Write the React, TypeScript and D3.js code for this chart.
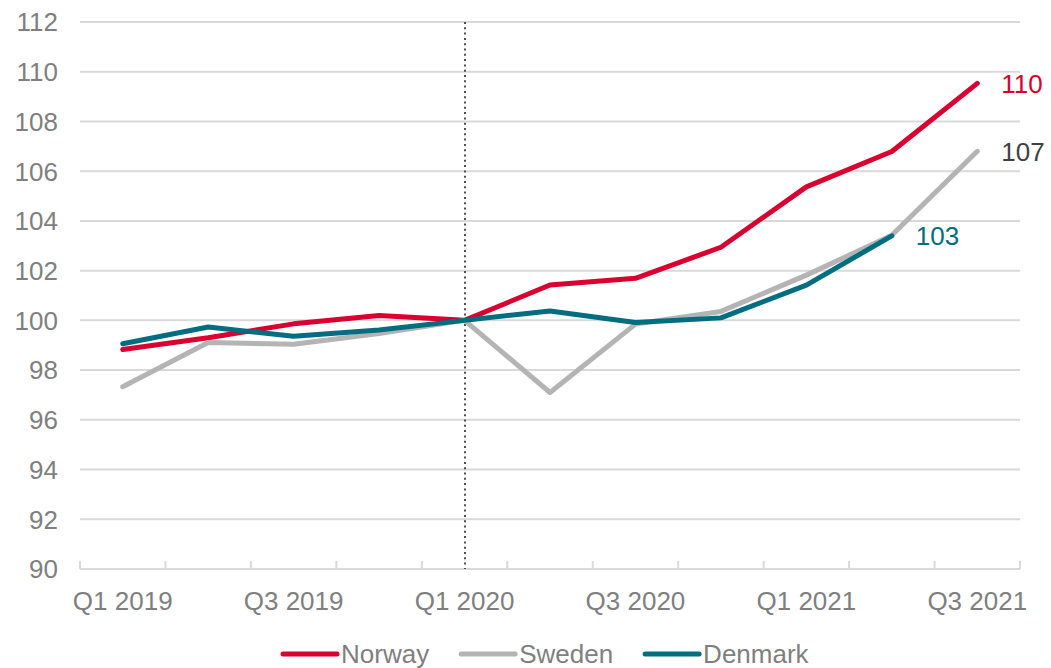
import React, { useEffect, useRef } from "react";
import * as d3 from "d3";

const categories = [
  "Q1 2019", "Q2 2019", "Q3 2019", "Q4 2019",
  "Q1 2020", "Q2 2020", "Q3 2020", "Q4 2020",
  "Q1 2021", "Q2 2021", "Q3 2021",
];
const shownLabels = ["Q1 2019", "Q3 2019", "Q1 2020", "Q3 2020", "Q1 2021", "Q3 2021"];
const norway = [98.83, 99.3, 99.86, 100.2, 100, 101.42, 101.69, 102.94, 105.37, 106.79, 109.53];
const sweden = [97.33, 99.11, 99.04, 99.47, 100, 97.1, 99.85, 100.36, 101.82, 103.42, 106.8];
const denmark = [99.06, 99.73, 99.36, 99.61, 100, 100.38, 99.91, 100.1, 101.42, 103.4];
const yTicks = [90, 92, 94, 96, 98, 100, 102, 104, 106, 108, 110, 112];
const endLabels = ["110", "107", "103"];
const markerCategory = "Q1 2020";

const series = [
  { name: "Norway", values: norway, color: "#DA0030", labelColor: "#DA0030", label: endLabels[0] },
  { name: "Sweden", values: sweden, color: "#B4B4B4", labelColor: "#404040", label: endLabels[1] },
  { name: "Denmark", values: denmark, color: "#006E80", labelColor: "#006E80", label: endLabels[2] },
];

const W = 1051;
const H = 668;
const FONT = "'Liberation Sans', Arial, sans-serif";
const FS = 26;

export default function App() {
  const ref = useRef<SVGSVGElement | null>(null);

  useEffect(() => {
    const svg = d3.select(ref.current);
    svg.selectAll("*").remove();

    const left = 80, right = 1020, top = 22, bottom = 569;
    const x = d3.scaleBand<string>().domain(categories).range([left, right]).padding(0);
    const y = d3.scaleLinear().domain([90, 112]).range([bottom, top]);
    const cx = (c: string) => (x(c) as number) + x.bandwidth() / 2;

    // gridlines
    svg.append("g")
      .selectAll("line")
      .data(yTicks)
      .join("line")
      .attr("x1", left).attr("x2", right)
      .attr("y1", (d) => y(d)).attr("y2", (d) => y(d))
      .attr("stroke", "#D9D9D9").attr("stroke-width", 2);

    // x tick marks (category boundaries)
    const bounds = categories.map((c) => x(c) as number).concat([right]);
    svg.append("g")
      .selectAll("line")
      .data(bounds)
      .join("line")
      .attr("x1", (d) => d).attr("x2", (d) => d)
      .attr("y1", bottom).attr("y2", bottom - 8)
      .attr("stroke", "#D9D9D9").attr("stroke-width", 2);

    // y tick labels
    svg.append("g")
      .selectAll("text")
      .data(yTicks)
      .join("text")
      .attr("x", 58)
      .attr("y", (d) => y(d))
      .attr("dy", "0.36em")
      .attr("text-anchor", "end")
      .attr("font-family", FONT)
      .attr("font-size", FS)
      .attr("fill", "#7F7F7F")
      .text((d) => String(d));

    // x labels
    svg.append("g")
      .selectAll("text")
      .data(shownLabels)
      .join("text")
      .attr("x", (d) => cx(d))
      .attr("y", 610)
      .attr("text-anchor", "middle")
      .attr("font-family", FONT)
      .attr("font-size", FS)
      .attr("fill", "#7F7F7F")
      .text((d) => d);

    // dotted marker line
    const mx = Math.round(cx(markerCategory));
    svg.append("line")
      .attr("x1", mx).attr("x2", mx)
      .attr("y1", top).attr("y2", bottom)
      .attr("stroke", "#505050").attr("stroke-width", 2)
      .attr("stroke-dasharray", "2,3.3");

    // lines
    const line = d3.line<number>()
      .x((_, i) => cx(categories[i]))
      .y((d) => y(d));

    series.forEach((s) => {
      svg.append("path")
        .datum(s.values)
        .attr("d", line)
        .attr("fill", "none")
        .attr("stroke", s.color)
        .attr("stroke-width", 5)
        .attr("stroke-linejoin", "round")
        .attr("stroke-linecap", "round");
      const li = s.values.length - 1;
      svg.append("text")
        .attr("x", cx(categories[li]) + 24)
        .attr("y", y(s.values[li]))
        .attr("dy", "0.36em")
        .attr("font-family", FONT)
        .attr("font-size", FS)
        .attr("fill", s.labelColor)
        .text(s.label);
    });

    // legend
    const lg = svg.append("g");
    let lx = 283;
    const ly = 654;
    series.forEach((s) => {
      lg.append("line")
        .attr("x1", lx).attr("x2", lx + 54)
        .attr("y1", ly).attr("y2", ly)
        .attr("stroke", s.color).attr("stroke-width", 5)
        .attr("stroke-linecap", "round");
      const t = lg.append("text")
        .attr("x", lx + 58)
        .attr("y", ly)
        .attr("dy", "0.36em")
        .attr("font-family", FONT)
        .attr("font-size", FS)
        .attr("fill", "#7F7F7F")
        .text(s.name);
      const w = (t.node() as SVGTextElement).getComputedTextLength();
      lx = lx + 58 + w + 32;
    });
  }, []);

  return (
    <svg
      ref={ref}
      width={W}
      height={H}
      style={{ position: "absolute", left: 0, top: 0, background: "#fff" }}
    />
  );
}
